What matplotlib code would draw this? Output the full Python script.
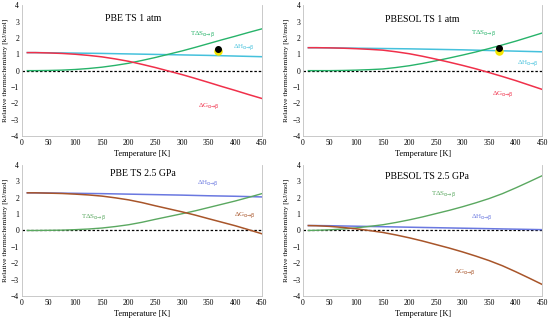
import matplotlib
matplotlib.use("Agg")
from matplotlib import pyplot as plt

plt.rcParams['font.family'] = ['Liberation Serif', 'DejaVu Serif']

# temperatures [K]
T = [10, 25, 50, 75, 100, 125, 150, 175, 200, 225, 250, 275, 300, 325, 350, 375, 400, 425, 450]

# PBE TS 1 atm
pbe1_dH = [1.10, 1.10, 1.09, 1.08, 1.07, 1.06, 1.05, 1.035, 1.02, 1.005, 0.99, 0.975, 0.96, 0.945, 0.93, 0.91, 0.89, 0.87, 0.85]
pbe1_TdS = [0.00, 0.00, 0.01, 0.03, 0.07, 0.13, 0.21, 0.32, 0.45, 0.62, 0.80, 1.00, 1.20, 1.42, 1.65, 1.88, 2.10, 2.33, 2.55]
pbe1_dG = [1.10, 1.10, 1.08, 1.05, 1.00, 0.93, 0.84, 0.715, 0.57, 0.385, 0.19, -0.025, -0.24, -0.475, -0.72, -0.97, -1.21, -1.46, -1.70]
pbe1_black = 1.35
pbe1_yellow = 1.20

# PBESOL TS 1 atm
pbesol1_dH = [1.40, 1.40, 1.39, 1.38, 1.37, 1.36, 1.35, 1.34, 1.33, 1.315, 1.30, 1.285, 1.27, 1.25, 1.23, 1.21, 1.19, 1.17, 1.15]
pbesol1_TdS = [0.00, 0.00, 0.00, 0.01, 0.03, 0.06, 0.10, 0.19, 0.30, 0.44, 0.60, 0.77, 0.95, 1.14, 1.35, 1.57, 1.80, 2.05, 2.30]
pbesol1_dG = [1.40, 1.40, 1.39, 1.37, 1.34, 1.30, 1.25, 1.15, 1.03, 0.875, 0.70, 0.515, 0.32, 0.11, -0.12, -0.36, -0.61, -0.88, -1.15]
pbesol1_black = 1.40
pbesol1_yellow = 1.20

# PBE TS 2.5 GPa
pbe25_dH = [2.30, 2.30, 2.29, 2.28, 2.27, 2.26, 2.25, 2.235, 2.22, 2.205, 2.19, 2.175, 2.16, 2.14, 2.12, 2.105, 2.09, 2.07, 2.05]
pbe25_TdS = [0.00, 0.00, 0.01, 0.02, 0.05, 0.09, 0.15, 0.24, 0.35, 0.50, 0.68, 0.85, 1.02, 1.20, 1.40, 1.60, 1.80, 2.02, 2.25]
pbe25_dG = [2.30, 2.30, 2.28, 2.26, 2.22, 2.17, 2.10, 1.995, 1.87, 1.705, 1.51, 1.325, 1.14, 0.94, 0.72, 0.505, 0.29, 0.05, -0.20]

# PBESOL TS 2.5 GPa
pbesol25_dH = [0.30, 0.30, 0.29, 0.275, 0.26, 0.245, 0.23, 0.215, 0.20, 0.185, 0.17, 0.155, 0.14, 0.125, 0.11, 0.095, 0.08, 0.065, 0.05]
pbesol25_TdS = [0.00, 0.01, 0.04, 0.09, 0.16, 0.25, 0.35, 0.49, 0.65, 0.83, 1.03, 1.23, 1.45, 1.69, 1.95, 2.25, 2.60, 2.97, 3.35]
pbesol25_dG = [0.30, 0.29, 0.25, 0.185, 0.10, -0.005, -0.12, -0.275, -0.45, -0.645, -0.86, -1.075, -1.31, -1.565, -1.84, -2.155, -2.52, -2.905, -3.30]

T_pt = 368

fig = plt.figure(figsize=(5.5, 3.21), dpi=100)

c_top = {'dH': '#45c1dc', 'dG': '#f0304a', 'TdS': '#27b36a'}
c_bot = {'dH': '#6a78e0', 'dG': '#a8552a', 'TdS': '#5aa860'}

panels = [
    # rect, title, dH, TdS, dG, colours, title pos, TdS pos, dH pos, dG pos, points
    ([0.040, 0.576, 0.436, 0.408], 'PBE TS 1 atm', pbe1_dH, pbe1_TdS, pbe1_dG, c_top,
     (209, 3.2), (338, 2.17), (416, 1.37), (351, -2.2), (pbe1_black, pbe1_yellow)),
    ([0.551, 0.576, 0.435, 0.408], 'PBESOL TS 1 atm', pbesol1_dH, pbesol1_TdS, pbesol1_dG, c_top,
     (224, 3.15), (339, 2.23), (422, 0.4), (375, -1.45), (pbesol1_black, pbesol1_yellow)),
    ([0.040, 0.078, 0.436, 0.408], 'PBE TS 2.5 GPa', pbe25_dH, pbe25_TdS, pbe25_dG, c_bot,
     (226, 3.45), (134, 0.76), (349, 2.84), (418, 0.88), None),
    ([0.551, 0.078, 0.435, 0.408], 'PBESOL TS 2.5 GPa', pbesol25_dH, pbesol25_TdS, pbesol25_dG, c_bot,
     (233, 3.3), (264, 2.17), (337, 0.76), (305, -2.6), None),
]

for rect, title, dH, TdS, dG, col, tpos, spos, hpos, gpos, pts in panels:
    ax = fig.add_axes(rect)
    ax.axhline(0, color='black', lw=0.9, ls=(0, (2, 1.5)), zorder=1)
    ax.plot(T, dH, color=col['dH'], lw=1.1)
    ax.plot(T, TdS, color=col['TdS'], lw=1.0)
    ax.plot(T, dG, color=col['dG'], lw=1.1)
    if pts:
        ax.scatter([T_pt], [pts[1]], color='#f5e600', s=26, zorder=4)
        ax.scatter([T_pt], [pts[0]], color='black', s=16, zorder=5)
    ax.text(*tpos, title, ha='center', va='center', fontsize=7)
    ax.text(*spos, 'TΔS$_{\\mathrm{α→β}}$', color=col['TdS'], ha='center', va='center', fontsize=5)
    ax.text(*hpos, 'ΔH$_{\\mathrm{α→β}}$', color=col['dH'], ha='center', va='center', fontsize=5)
    ax.text(*gpos, 'ΔG$_{\\mathrm{α→β}}$', color=col['dG'], ha='center', va='center', fontsize=5)
    ax.set_xlim(0, 450)
    ax.set_ylim(-4, 4)
    ax.set_xticks(range(0, 451, 50))
    ax.set_yticks(range(-4, 5))
    ax.tick_params(labelsize=5.5, length=0, pad=2)
    for s in ['left', 'right', 'bottom']:
        ax.spines[s].set_color('#c0c0c0')
        ax.spines[s].set_linewidth(0.6)
    ax.spines['top'].set_visible(False)
    ax.set_xlabel('Temperature [K]', fontsize=6, labelpad=2)
    ax.set_ylabel('Relative thermochemistry [kJ/mol]', fontsize=5.2)
    ax.yaxis.set_label_coords(-0.06, 0.5)

fig.savefig('out.png', dpi=100)
